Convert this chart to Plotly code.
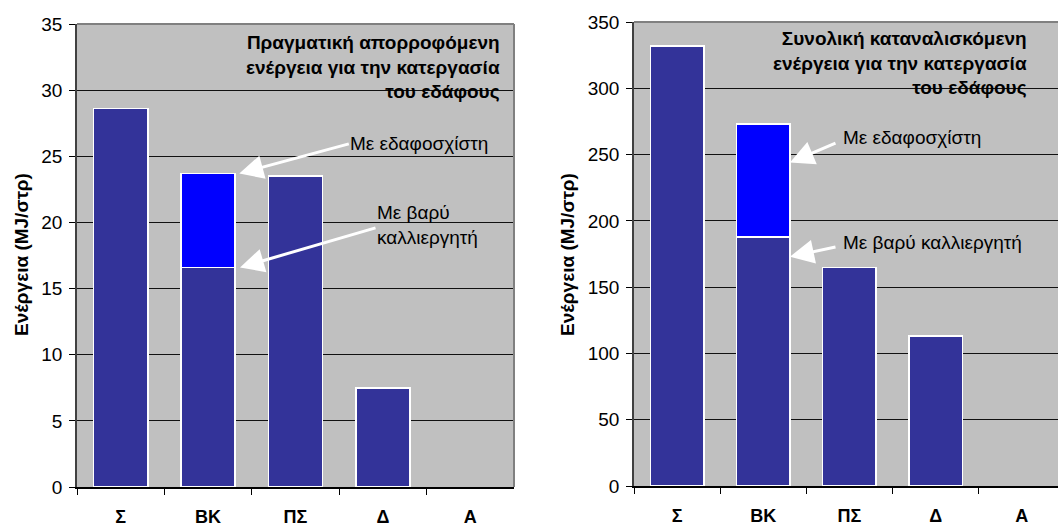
import plotly.graph_objects as go

# ---- data ----
categories = ["Σ", "ΒΚ", "ΠΣ", "Δ", "Α"]
absorbed_base = [28.6, 16.6, 23.5, 7.5, None]      # MJ/στρ (left chart)
absorbed_extra = [None, 7.1, None, None, None]     # extra with εδαφοσχίστη
consumed_base = [332, 188, 165, 113, None]         # MJ/στρ (right chart)
consumed_extra = [None, 85, None, None, None]

left_title = "Πραγματική απορροφόμενη<br>ενέργεια για την κατεργασία<br>του εδάφους"
right_title = "Συνολική καταναλισκόμενη<br>ενέργεια για την κατεργασία<br>του εδάφους"
y_title = "Ενέργεια (MJ/στρ)"

W, H = 1058, 526
FONT = "Arial, 'Liberation Sans', sans-serif"
DARK = "#333399"
BLUE = "#0000FF"
BG = "#C0C0C0"


def px(x):
    return x / W


def py(y):
    return 1 - y / H


fig = go.Figure()
bar_line = dict(color="white", width=1.5)
fig.add_trace(go.Bar(x=categories, y=absorbed_base, marker=dict(color=DARK, line=bar_line),
                     xaxis="x", yaxis="y", showlegend=False))
fig.add_trace(go.Bar(x=categories, y=absorbed_extra, marker=dict(color=BLUE, line=bar_line),
                     xaxis="x", yaxis="y", showlegend=False))
fig.add_trace(go.Bar(x=categories, y=consumed_base, marker=dict(color=DARK, line=bar_line),
                     xaxis="x2", yaxis="y2", showlegend=False))
fig.add_trace(go.Bar(x=categories, y=consumed_extra, marker=dict(color=BLUE, line=bar_line),
                     xaxis="x2", yaxis="y2", showlegend=False))

tickfont = dict(family=FONT, size=19, color="black")
xfont = dict(family=FONT, size=18, color="black", weight="bold")

common_x = dict(type="category", tickson="boundaries", ticks="outside", ticklen=6,
                tickcolor="black", showgrid=False, showline=True, linecolor="black",
                linewidth=1.5, tickfont=xfont, automargin=False, ticklabelstandoff=13,
                fixedrange=True)
common_y = dict(ticks="outside", ticklen=6, tickcolor="black", showgrid=True,
                gridcolor="#111111", gridwidth=1, showline=True, linecolor="#404040",
                linewidth=1.5, tickfont=tickfont, automargin=False, zeroline=False,
                ticklabelstandoff=3, fixedrange=True)

fig.update_layout(
    width=W, height=H,
    margin=dict(l=0, r=0, t=0, b=0),
    paper_bgcolor="white",
    plot_bgcolor=BG,
    barmode="stack",
    bargap=0.38,
    font=dict(family=FONT, color="black"),
    xaxis=dict(domain=[px(77), px(514)], anchor="y", range=[-0.5, 4.5], **common_x),
    yaxis=dict(domain=[py(487), py(24)], anchor="x", range=[0, 35], dtick=5, **common_y),
    xaxis2=dict(domain=[px(634), 1.0], anchor="y2", range=[-0.5, 4.42], **common_x),
    yaxis2=dict(domain=[py(486), py(22)], anchor="x2", range=[0, 350], dtick=50, **common_y),
)

# frame borders (top and right) in grey
fig.add_shape(type="line", xref="x domain", yref="y domain", x0=0, x1=1, y0=1, y1=1,
              line=dict(color="#808080", width=2), layer="above")
fig.add_shape(type="line", xref="x domain", yref="y domain", x0=1, x1=1, y0=0, y1=1,
              line=dict(color="#808080", width=2), layer="above")
fig.add_shape(type="line", xref="x2 domain", yref="y2 domain", x0=0, x1=1, y0=1, y1=1,
              line=dict(color="#808080", width=2), layer="above")

ann = []
title_font = dict(family=FONT, size=19, color="black", weight="bold")
ann.append(dict(text=left_title, xref="paper", yref="paper", x=px(502), y=py(67),
                xanchor="right", yanchor="middle", align="right", showarrow=False,
                font=title_font))
ann.append(dict(text=right_title, xref="paper", yref="paper", x=px(1029), y=py(63),
                xanchor="right", yanchor="middle", align="right", showarrow=False,
                font=title_font))
# y axis titles
for xc in (21, 567):
    ann.append(dict(text=y_title, xref="paper", yref="paper", x=px(xc), y=py(255),
                    xanchor="center", yanchor="middle", textangle=-90, showarrow=False,
                    font=dict(family=FONT, size=19, color="black", weight="bold")))
# labels
lab_font = dict(family=FONT, size=19, color="black")
ann.append(dict(text="Με εδαφοσχίστη", xref="paper", yref="paper", x=px(348), y=py(143),
                xanchor="left", yanchor="middle", showarrow=False, font=lab_font))
ann.append(dict(text="Με βαρύ<br>καλλιεργητή", xref="paper", yref="paper", x=px(375), y=py(225),
                xanchor="left", yanchor="middle", align="left", showarrow=False, font=lab_font))
ann.append(dict(text="Με εδαφοσχίστη", xref="paper", yref="paper", x=px(841), y=py(137),
                xanchor="left", yanchor="middle", showarrow=False, font=lab_font))
ann.append(dict(text="Με βαρύ καλλιεργητή", xref="paper", yref="paper", x=px(841), y=py(242),
                xanchor="left", yanchor="middle", showarrow=False, font=lab_font))

# arrows
arrow = dict(text="", showarrow=True, arrowhead=2, arrowsize=1.6, arrowwidth=3,
             arrowcolor="white", standoff=0, startstandoff=0)
bk = categories.index("ΒΚ")
ann.append(dict(xref="x", yref="y", x=bk + 0.357, y=absorbed_base[bk] + absorbed_extra[bk],
                ax=111, ay=-30, **arrow))
ann.append(dict(xref="x", yref="y", x=bk + 0.365, y=absorbed_base[bk], ax=137, ay=-40, **arrow))
ann.append(dict(xref="x2", yref="y2", x=bk + 0.31, y=244, ax=47, ay=-20, **arrow))
ann.append(dict(xref="x2", yref="y2", x=bk + 0.31, y=173, ax=47, ay=-10, **arrow))

fig.update_layout(annotations=ann)

fig.write_html("out.html", post_script="document.body.style.margin='0';",
               config={"displayModeBar": False})
